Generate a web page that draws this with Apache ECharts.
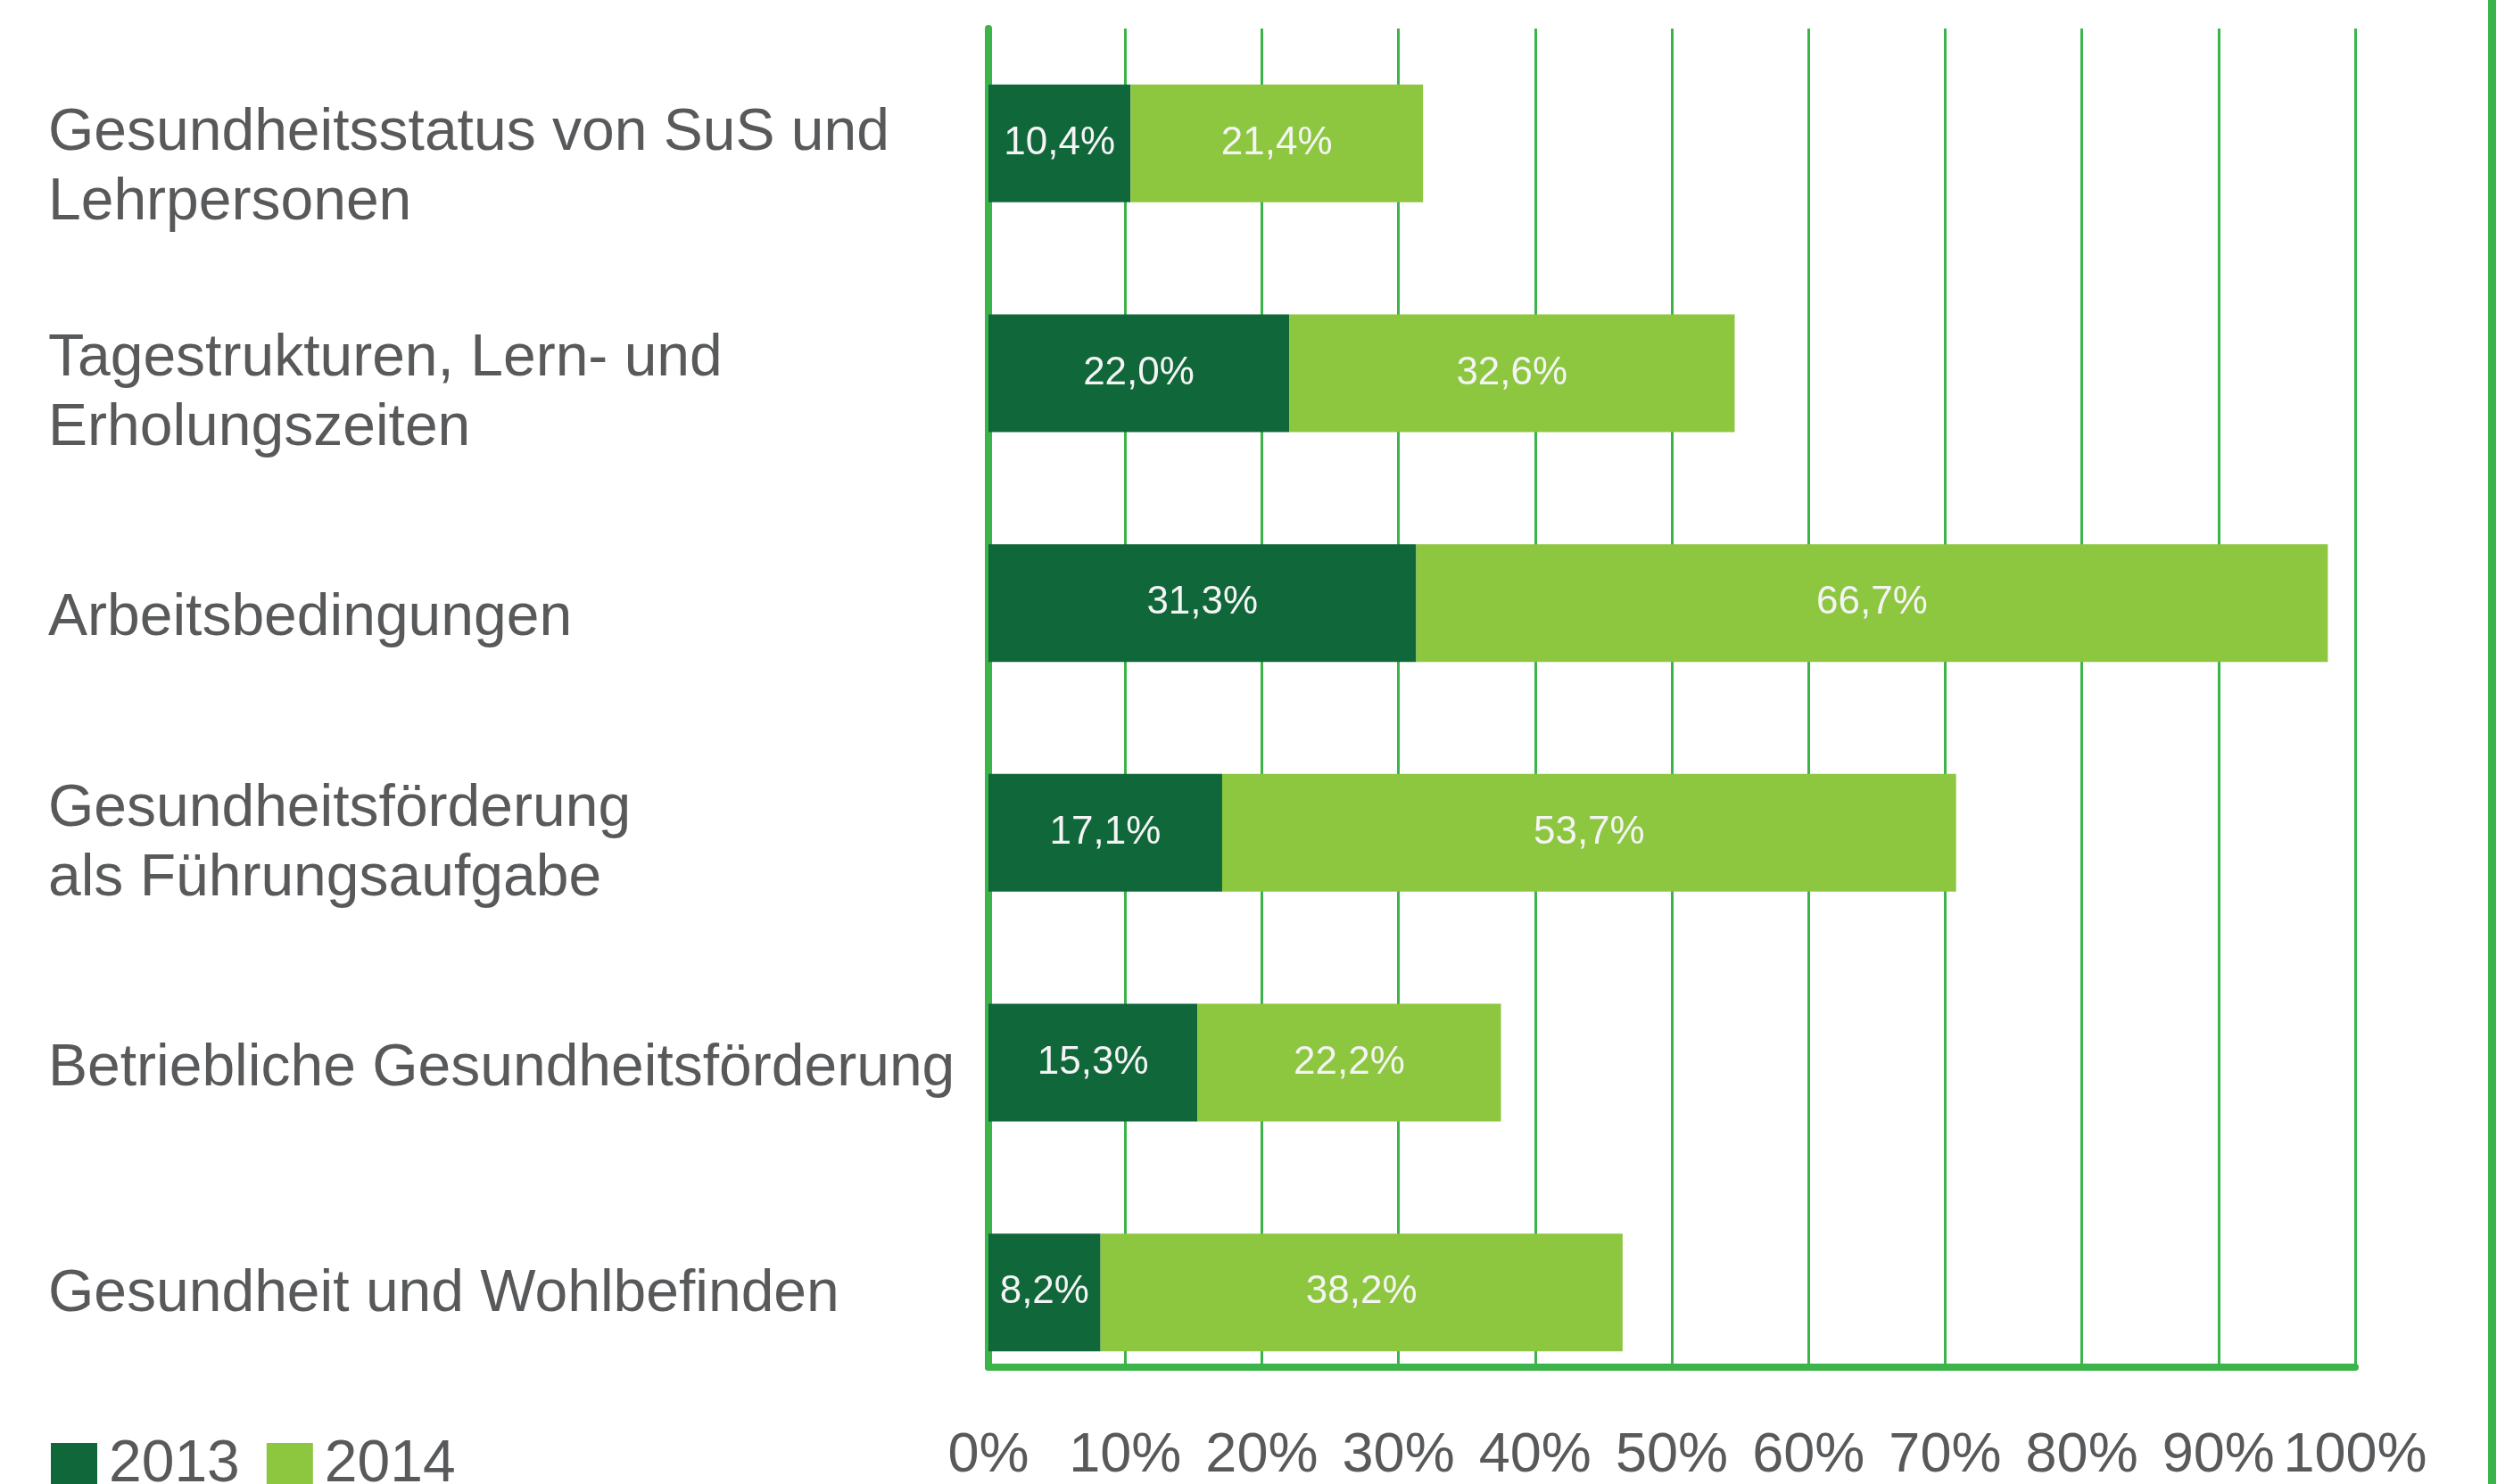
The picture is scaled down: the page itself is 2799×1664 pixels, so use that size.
<!DOCTYPE html>
<html>
<head>
<meta charset="utf-8">
<script src="https://cdn.jsdelivr.net/npm/echarts@6/dist/echarts.min.js"></script>
<style>
html,body{margin:0;padding:0;background:#fff;}
#chart{width:2799px;height:1664px;}
</style>
</head>
<body>
<div id="chart"></div>
<script>
const categories = [
  'Gesundheitsstatus von SuS und\nLehrpersonen',
  'Tagestrukturen, Lern- und\nErholungszeiten',
  'Arbeitsbedingungen',
  'Gesundheitsförderung\nals Führungsaufgabe',
  'Betriebliche Gesundheitsförderung',
  'Gesundheit und Wohlbefinden'
];
const seriesNames = ['2013', '2014'];
const values2013 = [10.4, 22.0, 31.3, 17.1, 15.3, 8.2];
const values2014 = [21.4, 32.6, 66.7, 53.7, 22.2, 38.2];
const tickLabels = ['0%', '10%', '20%', '30%', '40%', '50%', '60%', '70%', '80%', '90%', '100%'];

const GREEN = '#3bb44a';
const DARK = '#10673a';
const LIGHT = '#8dc63f';
const GRAY = '#58595b';
const FONT = '"Liberation Sans", Arial, sans-serif';

const fmt = v => v.toFixed(1).replace('.', ',') + '%';

const chart = echarts.init(document.getElementById('chart'), null, {renderer: 'canvas'});
chart.setOption({
  backgroundColor: '#ffffff',
  animation: false,
  textStyle: {fontFamily: FONT},
  legend: {
    data: seriesNames,
    left: 52,
    top: 1605,
    icon: 'rect',
    itemWidth: 52,
    itemHeight: 50,
    itemGap: 30,
    textStyle: {fontSize: 66, color: GRAY, fontFamily: FONT, padding: [0, 0, 0, 8]}
  },
  grid: [
    {left: 1108, right: 159, top: 32, height: 1546},
    {left: 1108, right: 159, top: 32, height: 1511},
    {left: 54, width: 1000, top: 63, height: 1515}
  ],
  xAxis: [
    {gridIndex: 0, type: 'value', min: 0, max: 100, show: false},
    {gridIndex: 1, type: 'value', min: 0, max: 100, interval: 10,
     axisLine: {show: true, lineStyle: {color: GREEN, width: 8}},
     axisTick: {show: false},
     splitLine: {show: true, lineStyle: {color: GREEN, width: 3}},
     axisLabel: {show: true, color: GRAY, fontSize: 63, fontFamily: FONT, margin: 68,
       showMinLabel: true, showMaxLabel: true, hideOverlap: false,
       formatter: (v) => tickLabels[Math.round(v / 10)]}
    },
    {gridIndex: 2, type: 'value', show: false}
  ],
  yAxis: [
    {gridIndex: 0, type: 'category', data: categories, inverse: true, show: false},
    {gridIndex: 1, type: 'category', data: categories, inverse: true,
     axisLine: {show: true, lineStyle: {color: GREEN, width: 8}},
     axisTick: {show: false}, axisLabel: {show: false}, splitLine: {show: false}},
    {gridIndex: 2, type: 'category', data: categories, inverse: true,
     axisLine: {show: false}, axisTick: {show: false}, splitLine: {show: false},
     axisLabel: {show: true, align: 'left', margin: 0, color: GRAY, fontSize: 66,
       lineHeight: 78, fontFamily: FONT}}
  ],
  series: [
    {name: seriesNames[0], type: 'bar', stack: 'total', xAxisIndex: 0, yAxisIndex: 0,
     data: values2013, barWidth: 132, itemStyle: {color: DARK},
     label: {show: true, position: 'inside', color: '#f4f4f4', fontSize: 44, fontFamily: FONT,
       formatter: p => fmt(p.value)}},
    {name: seriesNames[1], type: 'bar', stack: 'total', xAxisIndex: 0, yAxisIndex: 0,
     data: values2014, barWidth: 132, itemStyle: {color: LIGHT},
     label: {show: true, position: 'inside', color: '#f4f4f4', fontSize: 44, fontFamily: FONT,
       formatter: p => fmt(p.value)}}
  ],
  graphic: [
    {type: 'rect', shape: {x: 2789, y: 0, width: 9, height: 1664}, style: {fill: GREEN}, z: 10}
  ]
});
</script>
</body>
</html>
